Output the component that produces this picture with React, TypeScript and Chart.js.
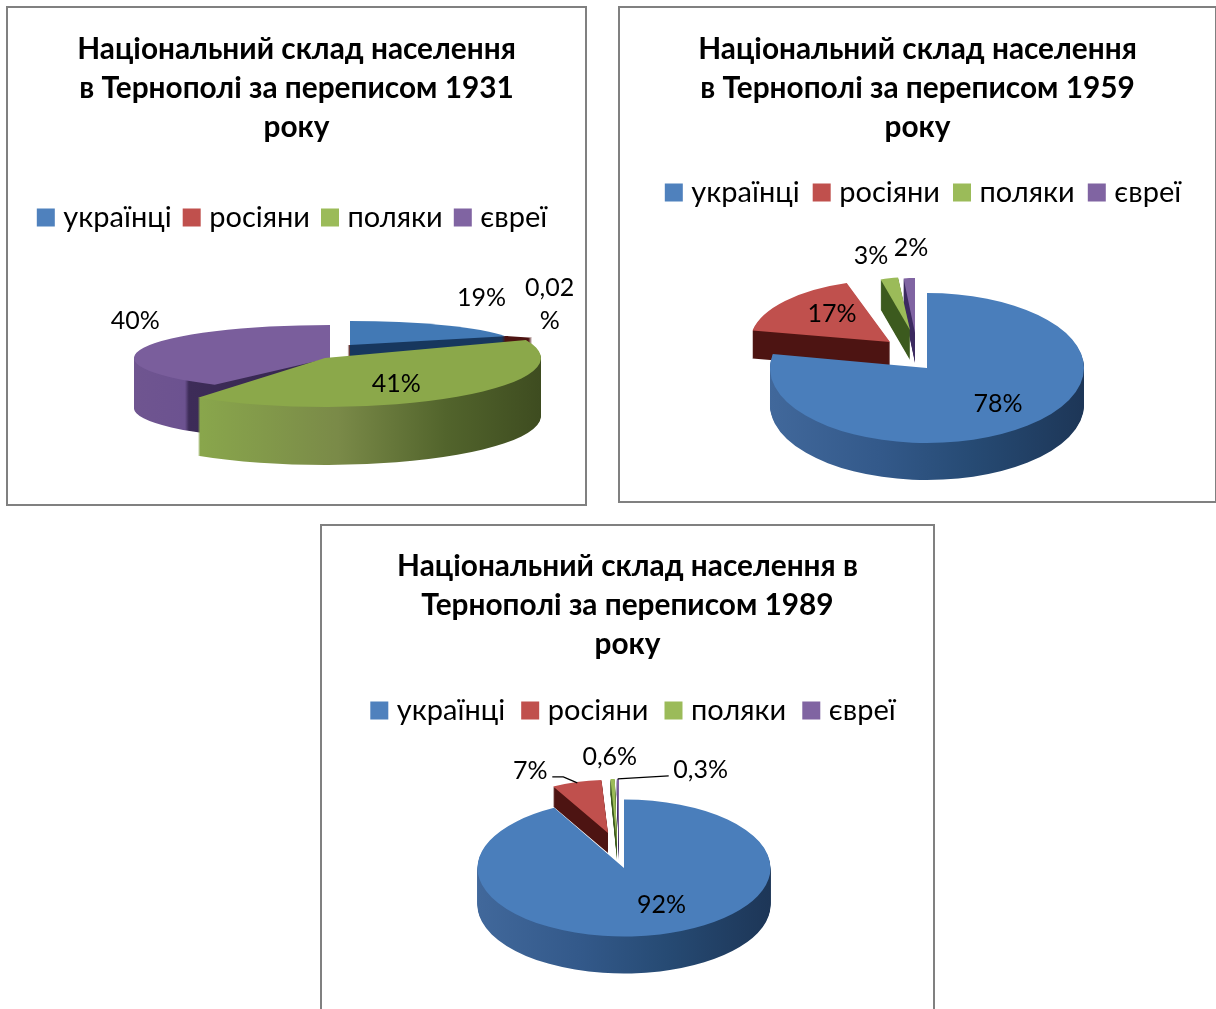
import React, { useEffect, useRef } from 'react';
import { Chart, registerables } from 'chart.js';

Chart.register(...registerables);

const categories = ['українці', 'росіяни', 'поляки', 'євреї'];
const colors = ['#4f81bd', '#c0504d', '#9bbb59', '#8064a2'];

const values1931 = [19, 0.02, 41, 40];
const values1959 = [78, 17, 3, 2];
const values1989 = [92, 7, 0.6, 0.3];

const labels1931 = [['19%'], ['0,02', '%'], ['41%'], ['40%']];
const labels1959 = [['78%'], ['17%'], ['3%'], ['2%']];
const labels1989 = [['92%'], ['7%'], ['0,6%'], ['0,3%']];

const title1931 = ['Національний склад населення', 'в Тернополі за переписом 1931', 'року'];
const title1959 = ['Національний склад населення', 'в Тернополі за переписом 1959', 'року'];
const title1989 = ['Національний склад населення в', 'Тернополі за переписом 1989', 'року'];

const FONT = 'Lato, "Noto Sans", sans-serif';

type Stops = [number, string][];
interface Slice {
  a: [number, number]; rx: number; ry: number; depth: number; side: Stops;
  top?: string; f: number; nudge: [number, number]; leader?: [number, number][];
  border?: number; borderColor?: string;
}
interface Panel {
  box: [number, number, number, number]; values: number[]; labels: string[][]; title: string[];
  titleTop: number; titleGap: number; legendShift: number; legendPad: number; order: number[]; slices: Slice[];
}

const blueSide: Stops = [[0, '#41689b'], [0.35, '#33598a'], [0.65, '#264a73'], [1, '#1d3657']];
const flat = (c: string): Stops => [[0, c], [1, c]];

const panels: Panel[] = [
  {
    box: [7, 7, 579, 498], values: values1931, labels: labels1931, title: title1931,
    titleTop: 23, titleGap: 39, legendShift: -1.5, legendPad: 17, order: [3, 1, 0, 2],
    slices: [
      { a: [350, 345], rx: 167, ry: 24, depth: 50, side: flat('#17375e'), top: '#4279b5', f: 1.2, nudge: [19, -24] },
      { a: [355, 347], rx: 170, ry: 25, depth: 14, side: flat('#4d1412'), f: 1.2, nudge: [5, -33], border: 30, borderColor: '#4d1412' },
      { a: [325, 358], rx: 216, ry: 49, depth: 58, side: [[0, '#8aa84c'], [0.19, '#8aa84c'], [0.53, '#7a8a48'], [0.78, '#52642c'], [1, '#3e4c20']], top: '#8ba84a', f: 0.6, nudge: [-8, 2] },
      { a: [330, 358], rx: 196, ry: 33, depth: 50, side: [[0, '#6f5590'], [0.13, '#6c5290'], [0.14, '#3d2c58'], [1, '#2b1f40']], top: '#7a5e9c', f: 1.2, nudge: [29, -26] },
    ],
  },
  {
    box: [619, 7, 597, 495], values: values1959, labels: labels1959, title: title1959,
    titleTop: 23, titleGap: 12, legendShift: 8.5, legendPad: 19, order: [3, 2, 1, 0],
    slices: [
      { a: [927, 368], rx: 157, ry: 75, depth: 37, side: blueSide, top: '#4a7ebb', f: 0.6, nudge: [11, 0] },
      { a: [890, 342], rx: 140, ry: 62, depth: 28, side: flat('#4d1412'), f: 0.6, nudge: [5, -4] },
      { a: [910, 330], rx: 95, ry: 53, depth: 30, side: flat('#3c5a1e'), f: 1.2, nudge: [-14, -13] },
      { a: [915, 333], rx: 91, ry: 55, depth: 30, side: flat('#3c2a60'), f: 1.2, nudge: [3, -20] },
    ],
  },
  {
    box: [321, 525, 613, 520], values: values1989, labels: labels1989, title: title1989,
    titleTop: 22, titleGap: 10, legendShift: 8.5, legendPad: 22, order: [2, 3, 1, 0],
    slices: [
      { a: [624, 868], rx: 146.5, ry: 68.5, depth: 37, side: blueSide, top: '#4a7ebb', f: 0.6, nudge: [16, -4] },
      { a: [608, 833], rx: 115, ry: 53, depth: 20, side: flat('#4d1412'), f: 1.2, nudge: [-40, -2], leader: [[22, 7], [33, 7], [47, 13]] },
      { a: [617, 845], rx: 115, ry: 66, depth: 15, side: flat('#3c5a1e'), f: 1.2, nudge: [-2, -10] },
      { a: [619, 845], rx: 115, ry: 66, depth: 15, side: flat('#3c2a60'), f: 1.2, nudge: [83, 3], leader: [[-32, 7], [-83, 10]] },
    ],
  },
];

const tiltPlugin = {
  id: 'tilt',
  afterLayout(chart: any, _a: any, opts: any) {
    if (chart.legend) {
      chart.legend.left += opts.panel.legendShift;
      chart.legend.right += opts.panel.legendShift;
    }
  },
  beforeDatasetDraw(chart: any, args: any, opts: any) {
    const panel: Panel = opts.panel;
    const [bx, by] = panel.box;
    const { ctx } = chart;
    const arcs = chart.getDatasetMeta(args.index).data;
    const drawAt = (arc: any, s: Slice, dy: number, fill: any, withBorder: boolean) => {
      const R = arc.outerRadius;
      const base = arc.options;
      ctx.save();
      ctx.translate(s.a[0] - bx, s.a[1] - by + dy);
      ctx.scale(s.rx / R, s.ry / R);
      ctx.translate(-arc.x, -arc.y);
      arc.options = {
        ...base,
        backgroundColor: fill,
        borderWidth: withBorder ? s.border || 0 : 0,
        borderColor: s.borderColor || fill,
      };
      arc.draw(ctx);
      arc.options = base;
      ctx.restore();
    };
    for (const i of panel.order) {
      const s = panel.slices[i];
      const arc = arcs[i];
      const R = arc.outerRadius;
      const g = ctx.createLinearGradient(arc.x - R, 0, arc.x + R, 0);
      s.side.forEach(([t, c]) => g.addColorStop(t, c));
      for (let d = s.depth; d >= 1; d--) drawAt(arc, s, d, g, true);
      drawAt(arc, s, 0, s.top || colors[i], false);
    }
    ctx.save();
    ctx.fillStyle = '#000';
    ctx.strokeStyle = '#000';
    ctx.lineWidth = 1.3;
    ctx.font = `25px ${FONT}`;
    ctx.textAlign = 'center';
    ctx.textBaseline = 'middle';
    panel.slices.forEach((s, i) => {
      const arc = arcs[i];
      const mid = (arc.startAngle + arc.endAngle) / 2;
      const lx = s.a[0] - bx + s.rx * s.f * Math.cos(mid) + s.nudge[0];
      const ly = s.a[1] - by + s.ry * s.f * Math.sin(mid) + s.nudge[1];
      const lines = panel.labels[i];
      lines.forEach((t, k) => ctx.fillText(t, lx, ly + 1 + (k - (lines.length - 1) / 2) * 33));
      if (s.leader) {
        ctx.beginPath();
        s.leader.forEach(([dx, dy], k) => (k ? ctx.lineTo(lx + dx, ly + dy) : ctx.moveTo(lx + dx, ly + dy)));
        ctx.stroke();
      }
    });
    ctx.restore();
    return false;
  },
};

function PieCard({ panel }: { panel: Panel }) {
  const ref = useRef<HTMLCanvasElement>(null);
  useEffect(() => {
    const chart = new Chart(ref.current as HTMLCanvasElement, {
      type: 'pie',
      data: {
        labels: categories,
        datasets: [{ data: panel.values, backgroundColor: colors, borderColor: colors, borderWidth: 12 }],
      },
      options: {
        responsive: false,
        animation: false,
        events: [],
        plugins: {
          tooltip: { enabled: false },
          title: {
            display: true,
            text: panel.title,
            color: '#000',
            font: { family: FONT, size: 29.8, weight: 'bold', lineHeight: 39 / 29.8 },
            padding: { top: panel.titleTop, bottom: panel.titleGap },
          },
          legend: {
            display: true,
            position: 'top',
            labels: { boxWidth: 6, boxHeight: 6, padding: panel.legendPad, color: '#000', font: { family: FONT, size: 29 } },
          },
          tilt: { panel },
        } as any,
      },
      plugins: [tiltPlugin],
    } as any);
    return () => chart.destroy();
  }, [panel]);
  const [x, y, w, h] = panel.box;
  return (
    <div style={{ position: 'absolute', left: x, top: y, width: w, height: h, outline: '2px solid #808080', outlineOffset: -1, background: '#fff' }}>
      <canvas ref={ref} width={w} height={h} style={{ display: 'block' }} />
    </div>
  );
}

export default function App() {
  return (
    <div style={{ position: 'absolute', left: 0, top: 0, width: 1216, height: 1009, overflow: 'hidden', background: '#fff' }}>
      {panels.map((p, i) => <PieCard key={i} panel={p} />)}
    </div>
  );
}
